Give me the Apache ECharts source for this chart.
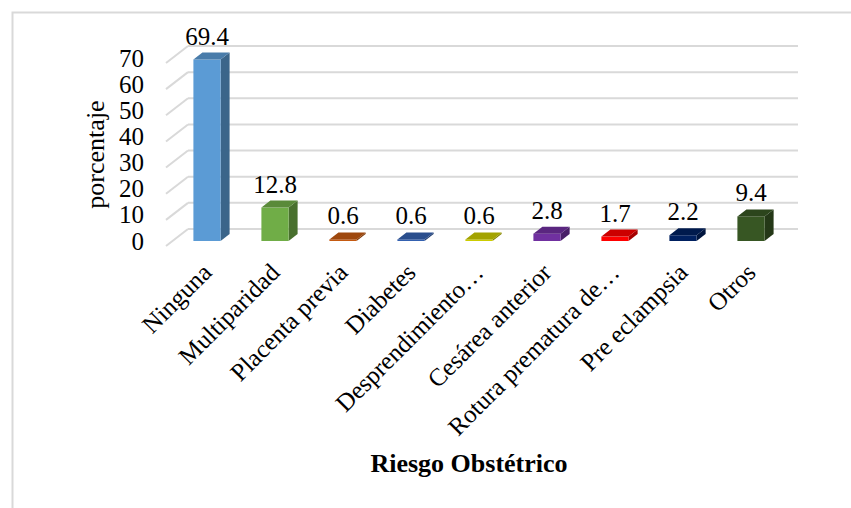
<!DOCTYPE html>
<html>
<head>
<meta charset="utf-8">
<script src="https://cdn.jsdelivr.net/npm/echarts@6/dist/echarts.min.js"></script>
<style>
  html, body { margin: 0; padding: 0; background: #fff; }
  #main { width: 851px; height: 508px; }
</style>
</head>
<body>
<div id="main"></div>
<script>
var categories = ['Ninguna', 'Multiparidad', 'Placenta previa', 'Diabetes', 'Desprendimiento…',
  'Cesárea anterior', 'Rotura prematura de…', 'Pre eclampsia', 'Otros'];
var values = [69.4, 12.8, 0.6, 0.6, 0.6, 2.8, 1.7, 2.2, 9.4];
var barColors = ['#5B9BD5', '#70AD47', '#C55A11', '#3461B0', '#CCCC00',
  '#7030A0', '#FF0000', '#002060', '#375623'];
var yTicks = [0, 10, 20, 30, 40, 50, 60, 70];

var FONT = 'Liberation Serif';
var DX = 9, DY = -7;          // bar depth
var WALL_DX = 15, WALL_DY = -12; // back wall offset from bar front plane
var FLOOR_DX = -7, FLOOR_DY = 5; // front edge of gridline diagonals

var dom = document.getElementById('main');
var myChart = echarts.init(dom, null, { renderer: 'svg' });

// darken a hex colour by factor k (0..1)
function shade(hex, k) {
  var n = parseInt(hex.slice(1), 16);
  var r = Math.round(((n >> 16) & 255) * k);
  var g = Math.round(((n >> 8) & 255) * k);
  var b = Math.round((n & 255) * k);
  return 'rgb(' + r + ',' + g + ',' + b + ')';
}

function renderBar(params, api) {
  var idx = api.value(0);
  var val = api.value(1);
  var base = api.coord([idx, 0]);
  var top = api.coord([idx, val]);
  var w = api.size([1, 0])[0] * 0.4;
  var x0 = base[0] - w / 2;
  var x1 = base[0] + w / 2;
  var c = barColors[idx];
  return {
    type: 'group',
    children: [
      {
        type: 'polygon',
        shape: { points: [[x1, top[1]], [x1 + DX, top[1] + DY], [x1 + DX, base[1] + DY], [x1, base[1]]] },
        style: { fill: shade(c, 0.65) }
      },
      {
        type: 'rect',
        shape: { x: x0, y: top[1], width: w, height: base[1] - top[1] },
        style: { fill: c }
      },
      {
        type: 'polygon',
        shape: { points: [[x0, top[1]], [x0 + DX, top[1] + DY], [x1 + DX, top[1] + DY], [x1, top[1]]] },
        style: { fill: shade(c, 0.8) }
      },
      {
        type: 'text',
        style: {
          x: base[0], y: top[1] - 11,
          text: String(val),
          fill: '#000',
          fontSize: 25,
          fontFamily: FONT,
          align: 'center',
          verticalAlign: 'bottom'
        }
      }
    ]
  };
}

function renderGrid(params, api) {
  var p = api.coord([0, api.value(0)]);
  var cs = params.coordSys;
  var y = p[1];
  var lineStyle = { stroke: '#D9D9D9', lineWidth: 2 };
  return {
    type: 'group',
    children: [
      {
        type: 'line',
        shape: { x1: cs.x + FLOOR_DX, y1: y + FLOOR_DY, x2: cs.x + WALL_DX, y2: y + WALL_DY },
        style: lineStyle
      },
      {
        type: 'line',
        shape: { x1: cs.x + WALL_DX, y1: y + WALL_DY, x2: cs.x + cs.width + 13, y2: y + WALL_DY },
        style: lineStyle
      }
    ]
  };
}

var option = {
  backgroundColor: '#fff',
  animation: false,
  textStyle: { fontFamily: FONT },
  graphic: [
    {
      type: 'rect',
      left: 10, top: 10,
      shape: { width: 900, height: 600 },
      style: { fill: 'none', stroke: '#D9D9D9', lineWidth: 2 },
      silent: true
    }
  ],
  grid: { left: 173, right: 66, top: 58, bottom: 267 },
  xAxis: {
    type: 'category',
    data: categories,
    axisLine: { show: false },
    axisTick: { show: false },
    axisLabel: {
      rotate: 45,
      interval: 0,
      margin: 27,
      color: '#000',
      fontSize: 25,
      fontFamily: FONT
    },
    name: 'Riesgo Obstétrico',
    nameLocation: 'middle',
    nameGap: 209,
    nameTextStyle: {
      color: '#000',
      fontSize: 26,
      fontWeight: 'bold',
      fontFamily: FONT,
      padding: [0, 20, 0, 0]
    }
  },
  yAxis: {
    type: 'value',
    min: 0,
    max: 70,
    interval: 10,
    splitLine: { show: false },
    axisLine: { show: false },
    axisTick: { show: false },
    axisLabel: {
      margin: 29,
      color: '#000',
      fontSize: 25,
      fontFamily: FONT,
      padding: [9, 0, 0, 0]
    },
    name: 'porcentaje',
    nameLocation: 'middle',
    nameRotate: 90,
    nameGap: 61,
    nameTextStyle: {
      color: '#000',
      fontSize: 26,
      fontFamily: FONT,
      padding: [0, 10, 0, 0]
    }
  },
  series: [
    {
      type: 'custom',
      z: 1,
      silent: true,
      renderItem: renderGrid,
      data: yTicks.map(function (t) { return [t]; }),
      encode: { y: 0 }
    },
    {
      type: 'custom',
      z: 2,
      renderItem: renderBar,
      data: values.map(function (v, i) { return [i, v]; }),
      encode: { x: 0, y: 1 }
    }
  ]
};

myChart.setOption(option);

window.addEventListener('resize', function () {
  myChart.resize();
});
</script>
</body>
</html>
